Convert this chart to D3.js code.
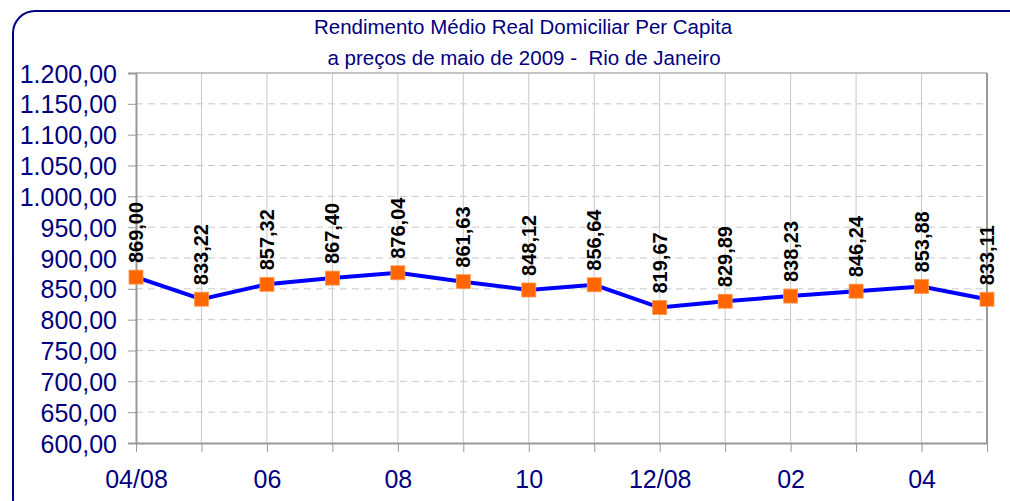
<!DOCTYPE html>
<html lang="pt">
<head>
    <meta charset="UTF-8">
    <title>Rendimento Médio Real Domiciliar Per Capita</title>
    <script src="https://d3js.org/d3.v7.min.js"></script>
    <style>
        body { margin: 0; background: #fff; }
        text { font-family: Arial, "Liberation Sans", sans-serif; }
    </style>
</head>
<body>
    <script>
    // meses (abr/2008 a mai/2009)
    var months = ["04/08", "05", "06", "07", "08", "09", "10", "11", "12/08", "01", "02", "03", "04", "05/09"];
    var values = [869.00, 833.22, 857.32, 867.40, 876.04, 861.63, 848.12, 856.64, 819.67, 829.89, 838.23, 846.24, 853.88, 833.11];
    var tickLabels = ["04/08", "06", "08", "10", "12/08", "02", "04"];
    var yTicks = [600, 650, 700, 750, 800, 850, 900, 950, 1000, 1050, 1100, 1150, 1200];

    var width = 1010, height = 501;
    var pLeft = 136, pRight = 987, pTop = 73, pBottom = 443;
    var navy = "#000080";

    var svg = d3.select("body").append("svg").attr("width", width).attr("height", height);

    // moldura arredondada
    svg.append("rect")
        .attr("x", 13).attr("y", 11)
        .attr("width", 1020).attr("height", 510)
        .attr("rx", 22).attr("ry", 22)
        .attr("fill", "none").attr("stroke", navy).attr("stroke-width", 2);

    // titulo
    svg.append("text").attr("x", 523).attr("y", 34).attr("text-anchor", "middle")
        .attr("font-size", "20.5px").attr("fill", navy)
        .text("Rendimento Médio Real Domiciliar Per Capita");
    svg.append("text").attr("x", 524).attr("y", 65).attr("text-anchor", "middle")
        .attr("font-size", "20.5px").attr("fill", navy).attr("xml:space", "preserve")
        .text("a preços de maio de 2009 -  Rio de Janeiro");

    var x = d3.scalePoint().domain(months).range([pLeft, pRight]);
    var y = d3.scaleLinear().domain([600, 1200]).range([pBottom, pTop]);

    var fmt = d3.formatLocale({ decimal: ",", thousands: ".", grouping: [3] }).format(",.2f");

    // grade horizontal tracejada
    svg.append("g").selectAll("line").data(yTicks.slice(1, -1)).enter().append("line")
        .attr("x1", pLeft).attr("x2", pRight)
        .attr("y1", d => y(d)).attr("y2", d => y(d))
        .attr("stroke", "#c8c8c8").attr("stroke-width", 1).attr("stroke-dasharray", "7,5");

    // grade vertical
    svg.append("g").selectAll("line").data(months.slice(1, -1)).enter().append("line")
        .attr("x1", d => x(d)).attr("x2", d => x(d))
        .attr("y1", pTop).attr("y2", pBottom)
        .attr("stroke", "#c8c8c8").attr("stroke-width", 1);

    // borda da area do grafico
    svg.append("line").attr("x1", pLeft).attr("x2", pRight).attr("y1", pTop).attr("y2", pTop)
        .attr("stroke", "#b0b0b0").attr("stroke-width", 1.5);
    svg.append("line").attr("x1", pRight).attr("x2", pRight).attr("y1", pTop).attr("y2", pBottom)
        .attr("stroke", "#999").attr("stroke-width", 2);

    // eixo y
    var yAxis = svg.append("g").attr("transform", "translate(" + pLeft + ",0)")
        .call(d3.axisLeft(y).tickValues(yTicks).tickSize(8).tickPadding(11).tickFormat(fmt));
    yAxis.select(".domain").attr("stroke", "#999").attr("stroke-width", 2);
    yAxis.selectAll(".tick line").attr("stroke", "#999");
    yAxis.selectAll("text").attr("fill", navy).attr("font-size", "25px")
        .attr("font-family", "Arial, 'Liberation Sans', sans-serif").attr("dy", "0.36em");

    // eixo x
    var xAxis = svg.append("g").attr("transform", "translate(0," + pBottom + ")")
        .call(d3.axisBottom(x).tickSize(9).tickSizeOuter(0).tickPadding(18)
            .tickFormat(d => tickLabels.indexOf(d) >= 0 && months.indexOf(d) % 2 == 0 ? d : ""));
    xAxis.select(".domain").attr("stroke", "#999").attr("stroke-width", 2);
    xAxis.selectAll(".tick line").attr("stroke", "#999");
    xAxis.selectAll("text").attr("fill", navy).attr("font-size", "25px")
        .attr("font-family", "Arial, 'Liberation Sans', sans-serif");

    // linha
    var line = d3.line().x((d, i) => x(months[i])).y(d => y(d));
    svg.append("path").datum(values).attr("d", line)
        .attr("fill", "none").attr("stroke", "#0000ff").attr("stroke-width", 4);

    // marcadores
    svg.append("g").selectAll("rect").data(values).enter().append("rect")
        .attr("x", (d, i) => x(months[i]) - 7).attr("y", d => y(d) - 7)
        .attr("width", 14).attr("height", 14)
        .attr("fill", "#ff6600").attr("stroke", "#ff9a50").attr("stroke-width", 0.8);

    // rotulos de dados
    svg.append("g").selectAll("text").data(values).enter().append("text")
        .attr("transform", (d, i) => "translate(" + (x(months[i]) + 7) + "," + (y(d) - 14) + ") rotate(-90)")
        .attr("font-size", "20px").attr("font-weight", "bold").attr("fill", "#000")
        .text(d => fmt(d));
    </script>
</body>
</html>
